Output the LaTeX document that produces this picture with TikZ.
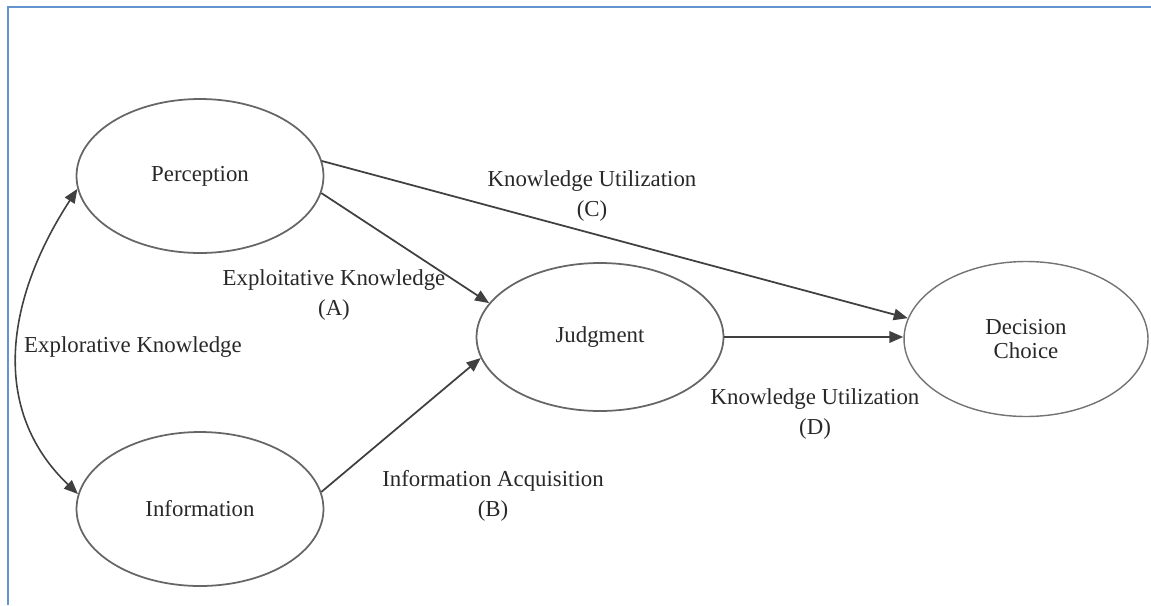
\documentclass[tikz,border=0pt]{standalone}
\usepackage{fontspec}
\setmainfont{Liberation Serif}
\usetikzlibrary{shapes.geometric,arrows.meta}

\definecolor{framecol}{RGB}{100,148,208}
\definecolor{inkcol}{RGB}{40,40,40}

\tikzset{
  factor/.style={ellipse, draw=black!60, line width=1pt, minimum width=4.94cm,
    minimum height=3.08cm, text=inkcol, font=\fontsize{13}{14}\selectfont, align=center},
  path label/.style={text=inkcol, font=\fontsize{13}{17.5}\selectfont, align=center},
  link/.style={->, draw=black!75, line width=1pt},
  >={Triangle[length=8pt,width=6.5pt]}
}

\begin{document}
\begin{tikzpicture}[x=0.02cm, y=-0.02cm]
\useasboundingbox (0,0) rectangle (1151,605);

% Moldura
\draw[framecol, line width=1.6pt] (1151,7) -- (8,7) -- (8,605);

% Construtos
\node[factor] (perc) at (200,176) {Perception};
\node[factor] (info) at (200,509) {Information};
\node[factor, minimum height=2.96cm] (judg) at (600,337) {Judgment};
\node[factor, draw=black!55, line width=0.8pt, minimum width=4.88cm, minimum height=3.1cm] (dec) at (1026,339) {Decision\\Choice};

% Caminhos
\draw[link] (perc.7) -- (dec.170);
\draw[link] (perc.-8) -- (judg.163);
\draw[link] (info.8) -- (judg.190);
\draw[link, line width=1.4pt] (judg.east) -- (judg.east -| dec.west);
\draw[<->, draw=black!75, line width=0.9pt] (perc.186) .. controls (5,300) and (-10,410) .. (info.173);

% Rotulos
\node[path label] (lblC) at (592,196) {Knowledge Utilization\\(C)};
\node[path label] (lblA) at (334,295) {Exploitative Knowledge\\(A)};
\node[path label] (lblE) at (133,347) {Explorative Knowledge};
\node[path label] (lblB) at (493,496) {Information Acquisition\\(B)};
\node[path label] (lblD) at (815,414) {Knowledge Utilization\\(D)};

\end{tikzpicture}
\end{document}
